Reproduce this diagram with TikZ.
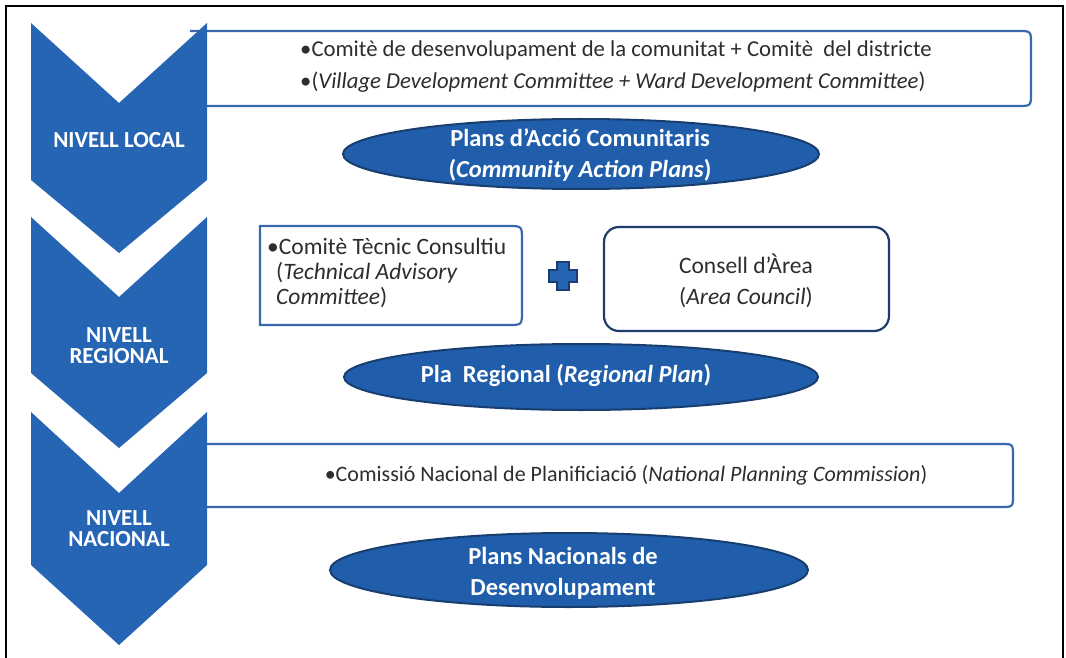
\documentclass[tikz,border=0pt]{standalone}
\usepackage{fontspec}
\setmainfont{Carlito}
\definecolor{chevblue}{RGB}{38,100,180}
\definecolor{ovalfill}{RGB}{32,94,172}
\definecolor{ovalline}{RGB}{24,62,112}
\definecolor{boxline}{RGB}{58,104,172}
\definecolor{darkline}{RGB}{30,60,108}
\definecolor{bodytext}{RGB}{45,45,45}
\begin{document}
\begin{tikzpicture}[x=1pt,y=-1pt,
  chevron/.style={fill=chevblue},
  framebox/.style={draw=boxline,line width=2.2pt,fill=white},
  oval/.style={draw=ovalline,line width=2pt,fill=ovalfill},
  levellabel/.style={text=white,font=\fontsize{23}{21}\selectfont\bfseries,align=center,inner sep=0pt},
  ovaltext/.style={text=white,font=\fontsize{24.5}{31}\selectfont\bfseries,align=center,inner sep=0pt},
  bodylabel/.style={text=bodytext,font=\fontsize{22.7}{31}\selectfont,inner sep=0pt}]
\useasboundingbox (0,0) rectangle (1066,658);
% outer frame (its lower edge lies below the page)
\draw[line width=2pt] (6,6) rectangle (1063,680);

% ---- level boxes (drawn first so the chevrons cover their left ends) ----
\draw[framebox] (190,31) -- (1018,31) .. controls (1031,31) .. (1031,44)
  -- (1031,93) .. controls (1031,106) .. (1018,106) -- (190,106);
\draw[framebox] (190,444) -- (1001,444) .. controls (1013,444) .. (1013,456)
  -- (1013,495) .. controls (1013,507) .. (1001,507) -- (190,507);
\draw[framebox] (260,226) -- (508,226) .. controls (522,226) .. (522,240)
  -- (522,311) .. controls (522,325) .. (508,325) -- (260,325) -- cycle;
\draw[framebox,draw=darkline,rounded corners=15] (604,227) rectangle (889,331);

% plus sign between the regional boxes
\draw[fill=chevblue,draw=darkline,line width=1.4pt]
  (557,262) -- (569,262) -- (569,270) -- (577,270) -- (577,282) -- (569,282)
  -- (569,290) -- (557,290) -- (557,282) -- (549,282) -- (549,270) -- (557,270) -- cycle;

% ---- chevrons ----
\fill[chevron] (31,23) -- (119,103) -- (207,23) -- (207,180) -- (119,253) -- (31,180) -- cycle;
\fill[chevron] (31,217) -- (119,297) -- (207,217) -- (207,373) -- (119,448) -- (31,373) -- cycle;
\fill[chevron] (31,412) -- (119,493) -- (207,412) -- (207,565) -- (119,645) -- (31,565) -- cycle;

\node[levellabel] (local) at (119,140) {NIVELL LOCAL};
\node[levellabel] (regional) at (119,346) {NIVELL\\REGIONAL};
\node[levellabel] (nacional) at (119,529) {NIVELL\\NACIONAL};

% ---- ovals ----
\draw[oval] (581,154) ellipse [x radius=238,y radius=35];
\draw[oval] (581,377) ellipse [x radius=237,y radius=33];
\draw[oval] (569,570) ellipse [x radius=239,y radius=37];

\node[ovaltext] (cap) at (580,155) {Plans d’Acció Comunitaris\\(\textit{Community Action Plans})};
\node[ovaltext] (rp) at (566,375) {Pla\ \ Regional (\textit{Regional Plan})};
\node[ovaltext] (npd) at (563,573) {Plans Nacionals de\\Desenvolupament};

% ---- box texts ----
\node[bodylabel,anchor=west] (vdc) at (300,50) {•Comitè de desenvolupament de la comunitat + Comitè\ \ del districte};
\node[bodylabel,anchor=west] (wdc) at (300,82) {•(\textit{Village Development Committee + Ward Development Committee})};
\node[bodylabel,anchor=north west,align=left,font=\fontsize{23.5}{25}\selectfont] (tac) at (267,238)
  {•Comitè Tècnic Consultiu\\\hspace*{9pt}(\textit{Technical Advisory}\\\hspace*{9pt}\textit{Committee})};
\node[bodylabel,align=center,font=\fontsize{23.5}{31}\selectfont] (ac) at (746,281) {Consell d’Àrea\\(\textit{Area Council})};
\node[bodylabel,font=\fontsize{22}{31}\selectfont] (npc) at (626,475) {•Comissió Nacional de Planificiació (\textit{National Planning Commission})};
\end{tikzpicture}
\end{document}
